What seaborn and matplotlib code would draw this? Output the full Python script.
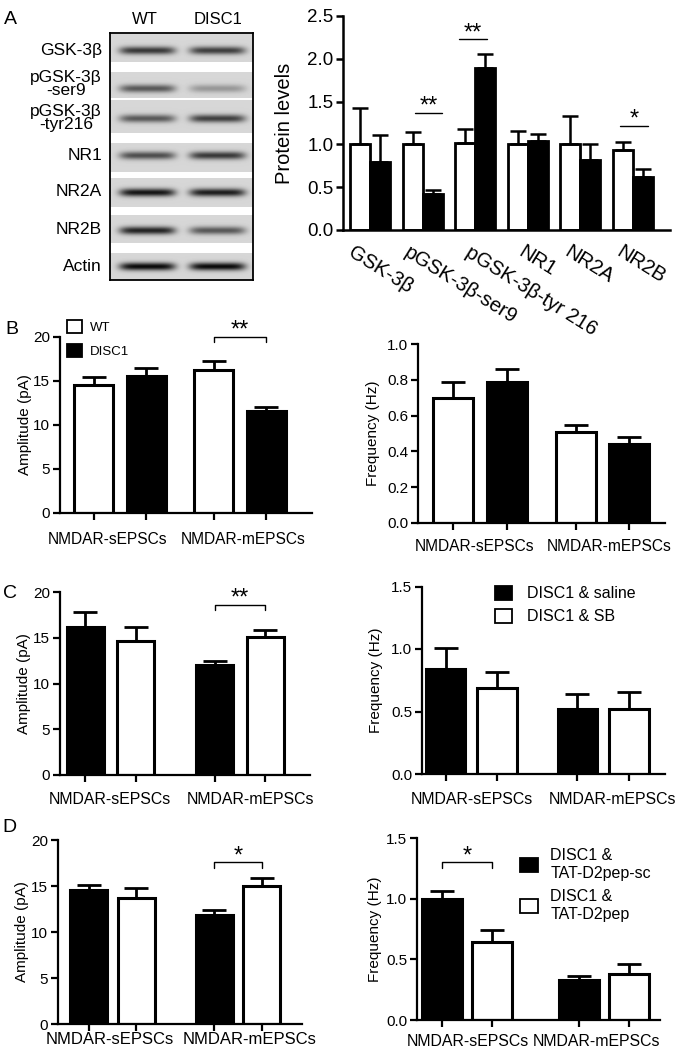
import numpy as np
import pandas as pd
import matplotlib
matplotlib.use('Agg')
import matplotlib.pyplot as plt
import matplotlib.transforms as mtransforms
from matplotlib.patches import Patch
from matplotlib.ticker import FormatStrFormatter
import seaborn as sns

sns.set_theme(style='ticks', rc={'axes.edgecolor': 'black', 'xtick.color': 'black',
                                 'ytick.color': 'black', 'text.color': 'black',
                                 'axes.labelcolor': 'black'})
plt.rcParams['font.family'] = ['Liberation Sans', 'DejaVu Sans']

# ── Data ──────────────────────────────────────────────────────────────────
# A: western blot quantification (WT vs DISC1)
proteins = ['GSK-3β', 'pGSK-3β-ser9', 'pGSK-3β-tyr 216', 'NR1', 'NR2A', 'NR2B']
wt_levels = [1.00, 1.00, 1.02, 1.00, 1.00, 0.94]
wt_err = [0.43, 0.14, 0.16, 0.16, 0.33, 0.09]
disc1_levels = [0.80, 0.42, 1.89, 1.04, 0.82, 0.62]
disc1_err = [0.31, 0.05, 0.17, 0.08, 0.19, 0.09]

# blot band darkness per lane (WT, DISC1)
blot_labels = ['GSK-3β', 'pGSK-3β\n-ser9', 'pGSK-3β\n-tyr216', 'NR1', 'NR2A', 'NR2B', 'Actin']
blot_wt = [0.75, 0.60, 0.60, 0.65, 0.92, 0.85, 0.97]
blot_disc1 = [0.72, 0.30, 0.72, 0.75, 0.88, 0.60, 0.97]

events = ['NMDAR-sEPSCs', 'NMDAR-mEPSCs']

# B: WT vs DISC1
b_amp_wt, b_amp_wt_err = [14.6, 16.3], [0.9, 1.0]
b_amp_disc1, b_amp_disc1_err = [15.6, 11.6], [0.9, 0.4]
b_freq_wt, b_freq_wt_err = [0.70, 0.51], [0.09, 0.04]
b_freq_disc1, b_freq_disc1_err = [0.79, 0.44], [0.07, 0.04]

# C: DISC1 & saline vs DISC1 & SB
c_amp_sal, c_amp_sal_err = [16.2, 12.0], [1.6, 0.5]
c_amp_sb, c_amp_sb_err = [14.6, 15.1], [1.6, 0.8]
c_freq_sal, c_freq_sal_err = [0.84, 0.52], [0.17, 0.12]
c_freq_sb, c_freq_sb_err = [0.69, 0.52], [0.13, 0.14]

# D: DISC1 & TAT-D2pep-sc vs DISC1 & TAT-D2pep
d_amp_sc, d_amp_sc_err = [14.6, 11.8], [0.5, 0.6]
d_amp_pep, d_amp_pep_err = [13.7, 15.0], [1.1, 0.9]
d_freq_sc, d_freq_sc_err = [1.00, 0.33], [0.06, 0.03]
d_freq_pep, d_freq_pep_err = [0.64, 0.38], [0.10, 0.08]

# ── Figure helpers ────────────────────────────────────────────────────────
W, H = 685, 1050
fig = plt.figure(figsize=(W / 100, H / 100), dpi=100)


def px_axes(x0, y0, x1, y1):
    return fig.add_axes([x0 / W, 1 - y1 / H, (x1 - x0) / W, (y1 - y0) / H])


def ftext(x, y, s, **kw):
    return fig.text(x / W, 1 - y / H, s, **kw)


def bars(ax, cats, groups, vals, errs, colors, width, gap, lw, elw, cap):
    rows = [(c, g, v) for g, vs in zip(groups, vals) for c, v in zip(cats, vs)]
    df = pd.DataFrame(rows, columns=['cat', 'group', 'val'])
    sns.barplot(data=df, x='cat', y='val', hue='group', order=cats, hue_order=groups,
                palette=dict(zip(groups, colors)), saturation=1, edgecolor='black',
                linewidth=lw, width=width, gap=gap, errorbar=None, legend=False, ax=ax)
    centers = []
    for cont, e in zip(ax.containers, errs):
        xs = [b.get_x() + b.get_width() / 2 for b in cont]
        hs = [b.get_height() for b in cont]
        ax.errorbar(xs, hs, yerr=[np.zeros(len(e)), e], fmt='none', ecolor='black',
                    elinewidth=elw, capsize=cap, capthick=elw, zorder=1.5)
        centers.append(xs)
    return centers


def style(ax, lw=1.6):
    sns.despine(ax=ax)
    for s in ('left', 'bottom'):
        ax.spines[s].set_linewidth(lw)
    ax.tick_params(axis='y', length=5, width=lw, direction='out', pad=2)
    ax.set_xlabel('')


def ylabel_at(ax, text, x_px, size):
    ax.set_ylabel(text, fontsize=size)
    ax.yaxis.label.set_va('center')
    tr = mtransforms.blended_transform_factory(fig.transFigure, ax.transAxes)
    ax.yaxis.set_label_coords(x_px / W, 0.5, transform=tr)


def px_to_data_x(box, xlim, px):
    return xlim[0] + (px - box[0]) / (box[2] - box[0]) * (xlim[1] - xlim[0])


# ── Panel A: blot ─────────────────────────────────────────────────────────
ftext(10, 20, 'A', fontsize=14, ha='center', va='center')
ftext(145, 20, 'WT', fontsize=12, ha='center', va='center')
ftext(218, 20, 'DISC1', fontsize=12, ha='center', va='center')

bx0, by0, bx1, by1 = 110, 33, 253, 280
ax_blot = px_axes(bx0, by0, bx1, by1)
nrow, ncol = by1 - by0, bx1 - bx0
img = np.ones((nrow, ncol))
yy, xx = np.mgrid[0:nrow, 0:ncol]
strip_rows = [(34, 62, 50), (72, 98, 88), (100, 133, 118), (143, 172, 155),
              (178, 207, 192), (215, 243, 230), (253, 280, 266)]
label_y = [50, 84, 118, 155, 192, 230, 266]
lane_x = [147, 217]
for (t, b, c), ly, dw, dd, lbl in zip(strip_rows, label_y, blot_wt, blot_disc1,
                                      blot_labels):
    inside = (yy >= t - by0) & (yy < b - by0)
    img[inside] = 0.84
    for lx, dark in zip(lane_x, (dw, dd)):
        prof = (np.exp(-((xx - (lx - bx0)) / 28.0) ** 6)
                * np.exp(-((yy - (c - by0)) / 4.0) ** 2))
        img -= dark * 0.82 * prof * inside
    ftext(102, ly, lbl, fontsize=12.5, ha='right', va='center',
          multialignment='center', linespacing=0.8)
ax_blot.imshow(np.clip(img, 0, 1), cmap='gray', vmin=0, vmax=1, aspect='auto',
               interpolation='bilinear', extent=(0, ncol, nrow, 0))
ax_blot.set_xticks([])
ax_blot.set_yticks([])
for s in ax_blot.spines.values():
    s.set_linewidth(1.3)
    s.set_color('black')

# ── Panel A: quantification ───────────────────────────────────────────────
ax_a = px_axes(343, 16, 670, 230)
bars(ax_a, proteins, ['WT', 'DISC1'], (wt_levels, disc1_levels), (wt_err, disc1_err),
     ['white', 'black'], width=0.76, gap=0, lw=2.0, elw=1.8, cap=6)
style(ax_a, lw=1.8)
ax_a.set_ylim(0, 2.5)
ax_a.set_xlim(-0.51, 5.7)
ax_a.set_yticks(np.arange(0, 2.51, 0.5))
ax_a.yaxis.set_major_formatter(FormatStrFormatter('%.1f'))
ax_a.tick_params(axis='y', labelsize=13.5)
ax_a.set_xticks(range(len(proteins)))
ax_a.set_xticklabels(proteins, rotation=-32, ha='left', va='top',
                     rotation_mode='anchor', fontsize=14.5)
ax_a.tick_params(axis='x', length=0, pad=9)
for t, dx in zip(ax_a.get_xticklabels(), [-15, -12, -3, -3, -9, -10]):
    t.set_transform(t.get_transform()
                    + mtransforms.ScaledTranslation(dx / 100, 0, fig.dpi_scale_trans))
ylabel_at(ax_a, 'Protein levels', 285, 14.5)
for x0, x1, y, star in [(0.86, 1.37, 1.37, '**'), (1.69, 2.22, 2.23, '**'),
                        (4.75, 5.28, 1.22, '*')]:
    ax_a.plot([x0, x1], [y, y], color='black', lw=1.0, clip_on=False)
    ax_a.text((x0 + x1) / 2, y, star, ha='center', va='baseline', fontsize=17,
              clip_on=False)

# ── Panels B–D ────────────────────────────────────────────────────────────
panels = [
    dict(box=(60, 337, 312, 513), groups=['WT', 'DISC1'], colors=['white', 'black'],
         vals=(b_amp_wt, b_amp_disc1), errs=(b_amp_wt_err, b_amp_disc1_err),
         ytop=20, yticks=[0, 5, 10, 15, 20], fmt='%d', ylabel='Amplitude (pA)',
         xlim=(-0.5, 1.6), width=0.88, gap=0.26, pad=13.5, lx=25, xsize=11.2,
         labx=(107.5, 243.5), sig=(1, '**', 20.0, 0.6)),
    dict(box=(418, 344, 665, 523), groups=['WT', 'DISC1'], colors=['white', 'black'],
         vals=(b_freq_wt, b_freq_disc1), errs=(b_freq_wt_err, b_freq_disc1_err),
         ytop=1.0, yticks=[0, 0.2, 0.4, 0.6, 0.8, 1.0], fmt='%.1f',
         ylabel='Frequency (Hz)', xlim=(-0.506, 1.51), width=0.874, gap=0.245,
         pad=11.5, lx=373, xsize=11.2, labx=(474.5, 609), sig=None),
    dict(box=(60, 592, 310, 775), groups=['DISC1 & saline', 'DISC1 & SB'],
         colors=['black', 'white'], vals=(c_amp_sal, c_amp_sb),
         errs=(c_amp_sal_err, c_amp_sb_err), ytop=20, yticks=[0, 5, 10, 15, 20],
         fmt='%d', ylabel='Amplitude (pA)', xlim=(-0.39, 1.54), width=0.78, gap=0.26,
         pad=12, lx=24, xsize=11.4, labx=(110, 250), sig=(1, '**', 18.6, 0.6)),
    dict(box=(422, 586.5, 665, 774), groups=['DISC1 & saline', 'DISC1 & SB'],
         colors=['black', 'white'], vals=(c_freq_sal, c_freq_sb),
         errs=(c_freq_sal_err, c_freq_sb_err), ytop=1.5, yticks=[0, 0.5, 1.0, 1.5],
         fmt='%.1f', ylabel='Frequency (Hz)', xlim=(-0.375, 1.47), width=0.78,
         gap=0.23, pad=12.7, lx=376, xsize=11.4, labx=(472, 612), sig=None),
    dict(box=(58, 840, 302, 1024), groups=['DISC1 &\nTAT-D2pep-sc', 'DISC1 &\nTAT-D2pep'],
         colors=['black', 'white'], vals=(d_amp_sc, d_amp_pep),
         errs=(d_amp_sc_err, d_amp_pep_err), ytop=20, yticks=[0, 5, 10, 15, 20],
         fmt='%d', ylabel='Amplitude (pA)', xlim=(-0.434, 1.51), width=0.76, gap=0.22,
         pad=5.5, lx=22, xsize=12.0, labx=(110, 250), sig=(1, '*', 17.6, 0.6)),
    dict(box=(417, 838, 660, 1020), groups=['DISC1 &\nTAT-D2pep-sc', 'DISC1 &\nTAT-D2pep'],
         colors=['black', 'white'], vals=(d_freq_sc, d_freq_pep),
         errs=(d_freq_sc_err, d_freq_pep_err), ytop=1.5, yticks=[0, 0.5, 1.0, 1.5],
         fmt='%.1f', ylabel='Frequency (Hz)', xlim=(-0.365, 1.41), width=0.73, gap=0.2,
         pad=10, lx=375, xsize=11.4, labx=(467.5, 597), sig=(0, '*', 1.30, 0.045)),
]

axes = []
for p in panels:
    ax = px_axes(*p['box'])
    centers = bars(ax, events, p['groups'], p['vals'], p['errs'], p['colors'],
                   width=p['width'], gap=p['gap'], lw=2.2, elw=2.0, cap=8.5)
    style(ax)
    ax.set_ylim(0, p['ytop'])
    ax.set_xlim(*p['xlim'])
    ax.set_yticks(p['yticks'])
    ax.yaxis.set_major_formatter(FormatStrFormatter(p['fmt']))
    ax.tick_params(axis='y', labelsize=11)
    ax.set_xticks([px_to_data_x(p['box'], p['xlim'], px) for px in p['labx']])
    ax.set_xticklabels(events, fontsize=p['xsize'])
    ax.set_xticks(sorted(centers[0] + centers[1]), minor=True)
    ax.tick_params(axis='x', which='major', length=0, pad=p['pad'])
    ax.tick_params(axis='x', which='minor', length=5, width=1.6, direction='out')
    ylabel_at(ax, p['ylabel'], p['lx'], 11)
    if p['sig'] is not None:
        g, star, y, drop = p['sig']
        x0, x1 = centers[0][g], centers[1][g]
        ax.plot([x0, x0, x1, x1], [y - drop, y, y, y - drop], color='black', lw=1.0,
                clip_on=False)
        ax.text((x0 + x1) / 2, y, star, ha='center', va='baseline', fontsize=17,
                clip_on=False)
    axes.append(ax)

# panel letters
ftext(12, 329, 'B', fontsize=14, ha='center', va='center')
ftext(10, 594, 'C', fontsize=14, ha='center', va='center')
ftext(9, 828, 'D', fontsize=14, ha='center', va='center')


# legends
def legend(ax, labels, colors, left, ymid, size, hl, hh, spacing, tpad):
    handles = [Patch(facecolor=c, edgecolor='black', linewidth=1.3) for c in colors]
    ax.legend(handles, labels, loc='center left',
              bbox_to_anchor=(left / W, 1 - ymid / H), bbox_transform=fig.transFigure,
              frameon=False, borderpad=0, borderaxespad=0, fontsize=size,
              handlelength=hl, handleheight=hh, labelspacing=spacing,
              handletextpad=tpad)


legend(axes[0], ['WT', 'DISC1'], ['white', 'black'], 67, 339, 9.5, 1.15, 1.15, 0.8, 0.6)
legend(axes[3], panels[3]['groups'], ['black', 'white'], 495, 605, 11.5, 1.05, 1.05,
       0.45, 0.95)
legend(axes[5], panels[5]['groups'], ['black', 'white'], 520, 885, 11.5, 1.1, 1.0,
       0.55, 0.8)

fig.savefig('out.png', dpi=100, facecolor='white')
